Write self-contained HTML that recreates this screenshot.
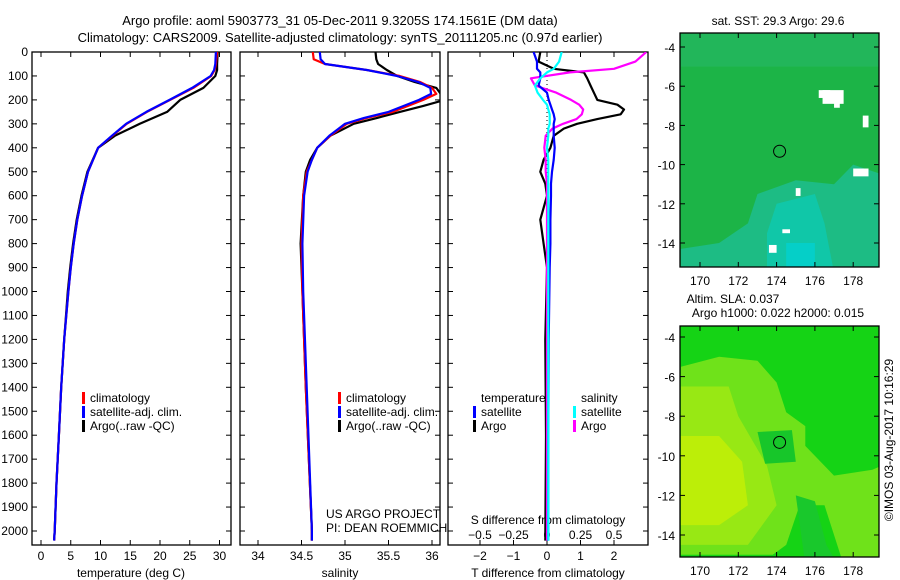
<!DOCTYPE html>
<html><head><meta charset="utf-8"><style>
body{margin:0;background:#fff;}
svg{display:block;font-family:"Liberation Sans",sans-serif;font-size:12px;}
</style></head><body>
<svg id="c" width="900" height="580" viewBox="0 0 900 580">
<text x="340" y="25" text-anchor="middle" style="font-size:13px">Argo profile: aoml 5903773_31 05-Dec-2011 9.3205S 174.1561E (DM data)</text>
<text x="340" y="42" text-anchor="middle" style="font-size:13px">Climatology: CARS2009. Satellite-adjusted climatology: synTS_20111205.nc (0.97d earlier)</text>
</svg>
<script>
// ---- data ----
const depthT=[0,50,75,100,150,200,250,300,350,400,500,600,700,800,900,1000,1200,1400,1600,1800,2000,2040];
const tempClim=[29.6,29.4,29.2,28.6,25.6,21.7,17.8,14.4,12,9.6,7.9,6.9,6.1,5.5,5.0,4.6,3.9,3.4,3.0,2.6,2.3,2.2];
const tempSat=[29.4,29.3,29.1,28.5,25.4,21.6,17.7,14.3,11.9,9.6,7.9,6.9,6.1,5.5,5.0,4.6,3.9,3.4,3.0,2.6,2.3,2.2];
const depthTA=[0,50,75,100,150,200,250,300,350,400,500,600,700,800,900,1000,1200,1400,1600,1800,2000,2040];
const tempArgo=[29.7,29.6,29.6,29.3,27.3,23.4,21.2,16.6,12.4,9.6,7.8,6.8,6.0,5.4,4.9,4.5,3.9,3.4,3.0,2.6,2.3,2.2];
const depthS=[0,30,50,75,100,125,150,175,200,250,275,300,350,400,450,500,600,800,1000,1400,2000,2040];
const salClim=[34.63,34.64,34.77,35.25,35.63,35.86,36.0,36.05,35.9,35.55,35.25,35.02,34.83,34.68,34.62,34.56,34.52,34.5,34.51,34.55,34.62,34.62];
const salSat=[34.71,34.72,34.77,35.25,35.6,35.84,35.98,35.99,35.85,35.5,35.22,35.0,34.82,34.68,34.62,34.57,34.53,34.51,34.52,34.56,34.62,34.62];
const depthSA=[0,30,50,75,100,125,150,175,200,225,250,275,300,350,400,450,500,600,800,1000,1400,2000,2040];
const salArgo=[35.35,35.36,35.38,35.48,35.6,35.8,36.05,36.1,36.15,35.9,35.63,35.37,35.1,34.83,34.68,34.6,34.55,34.52,34.49,34.51,34.55,34.62,34.62];
const depthD=[0,40,70,85,110,140,170,200,220,240,260,280,300,320,350,400,450,500,550,600,700,800,900,1200,1600,2040];
const dTArgo=[-0.2,-0.25,0.2,1.1,1.2,1.3,1.4,1.5,2.1,2.3,2.2,1.5,0.9,0.5,0.2,0.1,-0.1,-0.2,-0.05,0,-0.2,-0.1,0,-0.05,-0.03,-0.05];
const dTSat=[-0.4,-0.3,-0.3,-0.2,-0.2,-0.25,0,0.05,0.1,0.15,0.2,0.23,0.2,0.2,0.2,0.23,0.2,0.15,0.12,0.12,0.1,0.1,0.08,0.05,0.04,0.04];
const dSArgo=[0.74,0.66,0.5,0.17,-0.12,-0.09,0.07,0.18,0.24,0.27,0.26,0.22,0.12,0.04,-0.01,-0.02,-0.01,-0.01,0,0,0,0,0,0,0,0];
const dSSat=[0.11,0.09,0.05,0.0,-0.05,-0.09,-0.07,-0.03,0.0,0.01,0.02,0.02,0.02,0.01,0.01,0.0,0.01,0.01,0.01,0.01,0.01,0.01,0.01,0.01,0.01,0.01];
const depthTicks=[0,100,200,300,400,500,600,700,800,900,1000,1100,1200,1300,1400,1500,1600,1700,1800,1900,2000];
const tempTicks=[0,5,10,15,20,25,30];
const salTicks=[34,34.5,35,35.5,36];
const salTickLabels=["34","34.5","35","35.5","36"];
const tdTicks=[-2,-1,0,1,2];
const sdTicks=[-0.5,-0.25,0,0.25,0.5];
const sdTickLabels=["\u22120.5","\u22120.25","0","0.25","0.5"];
const tdTickLabels=["\u22122","\u22121","0","1","2"];
const mapLonTicks=[170,172,174,176,178];
const mapLatTicks=[-4,-6,-8,-10,-12,-14];

const NS='http://www.w3.org/2000/svg';
const svg=document.getElementById('c');
function mk(tag,attrs,parent){const e=document.createElementNS(NS,tag);for(const k in attrs)e.setAttribute(k,attrs[k]);(parent||svg).appendChild(e);return e;}
const Y=d=>52+d*0.2395;
const yTop=52,yBot=545;
const xT=v=>41+v*5.95;
const xS=v=>258+(v-34)*87;
const xTD=v=>547+v*33.5;
const xSD=v=>547+v*134;

function frame(x0,x1,name){
  const r=mk('rect',{x:x0,y:yTop,width:x1-x0,height:yBot-yTop,fill:'none',stroke:'#000','stroke-width':1.3});
  
  
  for(const d of depthTicks){
    mk('line',{x1:x0,x2:x0+5,y1:Y(d),y2:Y(d),stroke:'#000'});
    mk('line',{x1:x1,x2:x1-5,y1:Y(d),y2:Y(d),stroke:'#000'});
  }
}
function line(xs,ds,fx,color,name,w){
  const pts=xs.map((v,i)=>fx(v).toFixed(1)+','+Y(ds[i]).toFixed(1)).join(' ');
  const p=mk('polyline',{points:pts,fill:'none',stroke:color,'stroke-width':w||2.2,'stroke-linejoin':'round'});
  
  
  return p;
}
function clipTo(el,x0,x1){
  const id='clip'+Math.round(x0);
  if(!document.getElementById(id)){const c=mk('clipPath',{id:id});mk('rect',{x:x0,y:yTop,width:x1-x0,height:yBot-yTop},c);}
  el.setAttribute('clip-path','url(#'+id+')');
}
function txt(x,y,s,anchor,name,color){
  const t=mk('text',{x:x,y:y,'text-anchor':anchor||'start',fill:color||'#000'});
  t.textContent=s;
  
  
  return t;
}
function bar(x,y,color,name){
  const r=mk('rect',{x:x,y:y-10,width:3,height:12,fill:color});
  
  
}

// panel 1
frame(32,231,'temperature-panel');
depthTicks.forEach(d=>txt(28,Y(d)+4,String(d),'end','depth-tick-label'));
tempTicks.forEach(v=>{mk('line',{x1:xT(v),x2:xT(v),y1:yBot,y2:yBot-5,stroke:'#000'});mk('line',{x1:xT(v),x2:xT(v),y1:yTop,y2:yTop+5,stroke:'#000'});txt(xT(v),560,String(v),'middle','temperature-tick-label');});
txt(131,577,'temperature (deg C)','middle','temperature-axis-title');
clipTo(line(tempArgo,depthTA,xT,'#000','temp-argo-line'),32,231);
clipTo(line(tempClim,depthT,xT,'#f00','temp-clim-line'),32,231);
clipTo(line(tempSat,depthT,xT,'#00f','temp-sat-line'),32,231);
bar(82,402,'#f00','legend-clim-marker');txt(90,402,'climatology','start','legend-clim');
bar(82,416,'#00f','legend-sat-marker');txt(90,416,'satellite-adj. clim.','start','legend-sat');
bar(82,430,'#000','legend-argo-marker');txt(90,430,'Argo(..raw -QC)','start','legend-argo');

// panel 2
frame(240,440,'salinity-panel');
salTicks.forEach((v,i)=>{mk('line',{x1:xS(v),x2:xS(v),y1:yBot,y2:yBot-5,stroke:'#000'});mk('line',{x1:xS(v),x2:xS(v),y1:yTop,y2:yTop+5,stroke:'#000'});txt(xS(v),560,salTickLabels[i],'middle','salinity-tick-label');});
txt(340,577,'salinity','middle','salinity-axis-title');
clipTo(line(salArgo,depthSA,xS,'#000','sal-argo-line'),240,440);
clipTo(line(salClim,depthS,xS,'#f00','sal-clim-line'),240,440);
clipTo(line(salSat,depthS,xS,'#00f','sal-sat-line'),240,440);
bar(338,402,'#f00','legend-clim-marker-2');txt(346,402,'climatology','start','legend-clim-2');
bar(338,416,'#00f','legend-sat-marker-2');txt(346,416,'satellite-adj. clim.','start','legend-sat-2');
bar(338,430,'#000','legend-argo-marker-2');txt(346,430,'Argo(..raw -QC)','start','legend-argo-2');
txt(326,518,'US ARGO PROJECT','start','project-label');
txt(326,532,'PI: DEAN ROEMMICH','start','pi-label');

// panel 3
frame(448,648,'difference-panel');
mk('line',{x1:547,x2:547,y1:yTop,y2:yBot,stroke:'#000','stroke-dasharray':'1,3'});
tdTicks.forEach((v,i)=>{mk('line',{x1:xTD(v),x2:xTD(v),y1:yBot,y2:yBot-5,stroke:'#000'});mk('line',{x1:xTD(v),x2:xTD(v),y1:yTop,y2:yTop+5,stroke:'#000'});txt(xTD(v),560,tdTickLabels[i],'middle','t-diff-tick-label');});
sdTicks.forEach((v,i)=>txt(xSD(v),539,sdTickLabels[i],'middle','s-diff-tick-label'));
txt(548,524,'S difference from climatology','middle','s-diff-axis-title');
txt(548,577,'T difference from climatology','middle','t-diff-axis-title');
clipTo(line(dTArgo,depthD,xTD,'#000','tdiff-argo-line'),448,648);
clipTo(line(dSArgo,depthD,xSD,'#f0f','sdiff-argo-line'),448,648);
clipTo(line(dTSat,depthD,xTD,'#00f','tdiff-sat-line'),448,648);
clipTo(line(dSSat,depthD,xSD,'#0ff','sdiff-sat-line'),448,648);
txt(481,402,'temperature','start','legend-temperature-heading');
txt(581,402,'salinity','start','legend-salinity-heading');
bar(473,416,'#00f','legend-t-sat-marker');txt(481,416,'satellite','start','legend-t-sat');
bar(473,430,'#000','legend-t-argo-marker');txt(481,430,'Argo','start','legend-t-argo');
bar(573,416,'#0ff','legend-s-sat-marker');txt(581,416,'satellite','start','legend-s-sat');
bar(573,430,'#f0f','legend-s-argo-marker');txt(581,430,'Argo','start','legend-s-argo');

// maps
function map(y0,y1,lat4,lat14,name,base,blobs){
  const x0=680,x1=879;
  const g=mk('g',{});
  
  
  const cid='mc'+y0;const c=mk('clipPath',{id:cid});mk('rect',{x:x0,y:y0,width:x1-x0,height:y1-y0},c);
  const inner=mk('g',{'clip-path':'url(#'+cid+')'},g);
  mk('rect',{x:x0,y:y0,width:x1-x0,height:y1-y0,fill:base},inner);
  const lon=v=>700+(v-170)*19.15;
  const lat=v=>lat4+(v+4)*(lat14-lat4)/(-10);
  blobs.forEach(b=>mk('polygon',{points:b.p.map(q=>lon(q[0]).toFixed(1)+','+lat(q[1]).toFixed(1)).join(' '),fill:b.c},inner));
  mk('circle',{cx:lon(174.156),cy:lat(-9.32),r:6,fill:'none',stroke:'#000'},inner);
  mk('rect',{x:x0,y:y0,width:x1-x0,height:y1-y0,fill:'none',stroke:'#000','stroke-width':1.3},g);
  mapLonTicks.forEach(v=>{mk('line',{x1:lon(v),x2:lon(v),y1:y1,y2:y1-5,stroke:'#000'},g);mk('line',{x1:lon(v),x2:lon(v),y1:y0,y2:y0+5,stroke:'#000'},g);txt(lon(v),y1+18,String(v),'middle','map-lon-tick');});
  mapLatTicks.forEach(v=>{mk('line',{x1:x0,x2:x0+5,y1:lat(v),y2:lat(v),stroke:'#000'},g);mk('line',{x1:x1,x2:x1-5,y1:lat(v),y2:lat(v),stroke:'#000'},g);txt(x0-5,lat(v)+5,String(v),'end','map-lat-tick');});
  return {lon,lat};
}
const m1=map(33,267,47,243,'sst-map','#1cb447',[
  {p:[[169,-3.3],[179.5,-3.3],[179.5,-5],[169,-5]],c:'#22b65a'},
  {p:[[173,-11.5],[175,-10.8],[177,-11],[178,-10],[179.5,-10.5],[179.5,-15.5],[169,-15.5],[169,-14.3],[171,-14],[172.5,-13]],c:'#1dbc84'},
  {p:[[174,-12],[176,-11.5],[176.5,-13],[177,-15.5],[173.5,-15.5],[173.5,-13.5]],c:'#10c7a8'},
  {p:[[174.5,-14],[176,-14],[176,-15.5],[174.5,-15.5]],c:'#05cfc8'}
]);
[[176.2,-6.2,0.6,0.4],[176.4,-6.2,1.1,0.7],[177,-6.5,0.3,0.6],[178.5,-7.5,0.3,0.6],[178,-10.2,0.8,0.4],[175,-11.2,0.25,0.4],[174.3,-13.3,0.4,0.2],[173.6,-14.1,0.4,0.4]].forEach(b=>mk('rect',{x:m1.lon(b[0]),y:m1.lat(b[1]),width:b[2]*19.15,height:b[3]*19.6,fill:'#fff'}));
const m2=map(326,557,337,535,'sla-map','#15d315',[
  {p:[[169,-5.5],[171,-5],[173,-5.2],[174,-6.3],[174.5,-7.8],[175.5,-8.5],[175.5,-9.5],[177,-11],[179,-10.7],[179.5,-10.5],[179.5,-15.5],[177.5,-15.5],[176.5,-12.5],[175.2,-12.5],[174.5,-14.5],[173.8,-15],[169,-15]],c:'#6fe21a'},
  {p:[[169,-6.5],[171.5,-6.5],[172,-8],[173.5,-10.5],[174,-12.5],[172.5,-14.5],[169,-14.5]],c:'#98e814'},
  {p:[[169,-9],[171,-9],[172.2,-10.3],[172.5,-12.5],[171,-13.5],[169,-13.5]],c:'#bcee08'},
  {p:[[175,-12],[176,-12.3],[176.6,-14.5],[177.2,-15.5],[175.5,-15.5]],c:'#19c82c'},
  {p:[[173,-8.8],[174.8,-8.7],[175,-10.3],[173.4,-10.4]],c:'#17c62a'}
]);
txt(778,25,'sat. SST: 29.3 Argo: 29.6','middle','sst-map-title');
txt(733,303,'Altim. SLA: 0.037','middle','sla-map-title-1');
txt(778,317,'Argo h1000: 0.022 h2000: 0.015','middle','sla-map-title-2');
const r=txt(0,0,'\u00a9IMOS 03-Aug-2017 10:16:29','middle','timestamp-label');
r.setAttribute('transform','translate(893,440) rotate(-90)');
</script>
</body></html>
